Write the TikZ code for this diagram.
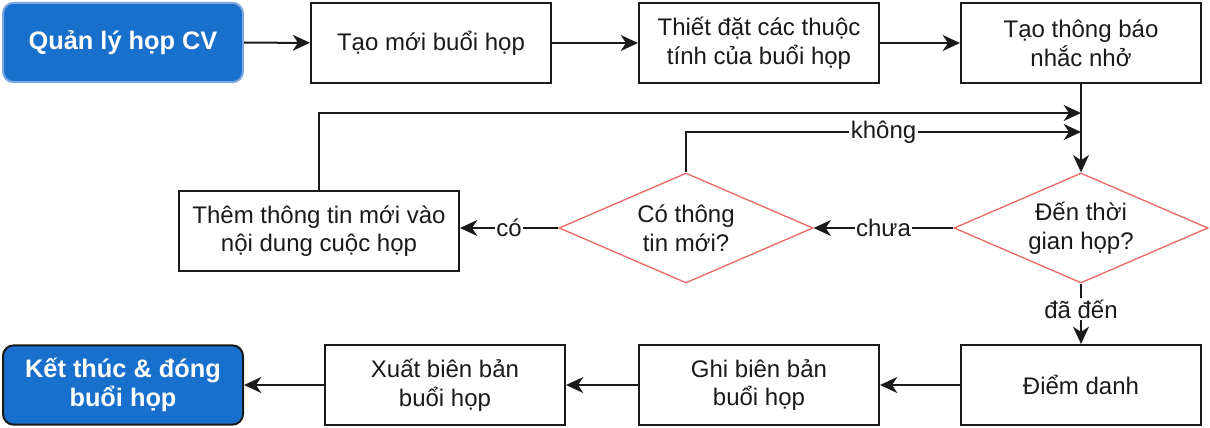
\documentclass[tikz,border=0pt]{standalone}
\usepackage{fontspec}
\setmainfont{Liberation Sans}
\usetikzlibrary{shapes.geometric,arrows.meta}
\definecolor{ink}{HTML}{1A1A1A}
\definecolor{blueA}{HTML}{1870CC}
\definecolor{blueedge}{HTML}{7EA6E0}
\definecolor{redd}{HTML}{EA6B66}
\begin{document}
\begin{tikzpicture}[x=0.75pt,y=-0.75pt,
  txt/.style={font=\fontsize{18}{21.5}\selectfont},
  stepbox/.style={txt,draw=ink,line width=1.5pt,fill=white,minimum width=180pt,minimum height=60pt,inner sep=0pt,align=center,text=ink},
  term/.style={font=\fontsize{19}{22}\selectfont\bfseries,draw=ink,line width=1.5pt,fill=blueA,rounded corners=8pt,minimum width=180pt,minimum height=59.5pt,inner sep=0pt,align=center,text=white},
  decide/.style={txt,diamond,aspect=2.3,draw=redd,line width=1pt,fill=white,minimum width=190.5pt,minimum height=82.5pt,inner sep=0pt,align=center,text=ink},
  conn/.style={draw=ink,line width=1.5pt,-{Stealth[length=13pt,width=12pt,inset=4pt]}},
  lbl/.style={txt,fill=white,inner sep=1pt,text=ink}]
\useasboundingbox (0,0) rectangle (1210,428);
% top row
\node[term,draw=blueedge] (start) at (123,42.5) {Quản lý họp CV};
\node[stepbox] (n1) at (431,43) {Tạo mới buổi họp};
\node[stepbox] (n2) at (759,43) {Thiết đặt các thuộc\\tính của buổi họp};
\node[stepbox] (n3) at (1081,43) {Tạo thông báo\\nhắc nhở};
% middle row
\node[decide] (d1) at (1081,228) {Đến thời\\gian họp?};
\node[decide] (d2) at (686,228) {Có thông\\tin mới?};
\node[stepbox,minimum width=210pt] (add) at (319,231) {Thêm thông tin mới vào\\nội dung cuộc họp};
% bottom row
\node[stepbox] (b1) at (1081,385) {Điểm danh};
\node[stepbox] (b2) at (759,385) {Ghi biên bản\\buổi họp};
\node[stepbox] (b3) at (445,385) {Xuất biên bản\\buổi họp};
\node[term] (end) at (123,385) {Kết thúc \& đóng\\buổi họp};
% merge points
\coordinate (k1) at (1081,113);
\coordinate (k2) at (1081,132);
% connectors
\draw[conn] (start) -- (n1);
\draw[conn] (n1) -- (n2);
\draw[conn] (n2) -- (n3);
\draw[conn] (n3.south) -- (d1.north);
\draw[conn] (d1.west) -- node[lbl]{chưa} (d2.east);
\draw[conn] (d2.west) -- node[lbl]{có} (d2.west -| add.east);
\draw[conn] (d2.north) |- node[lbl,pos=0.75]{không} (k2);
\draw[conn] (add.north) |- (k1);
\draw[conn] (d1.south) -- node[lbl,pos=0.42]{đã đến} (b1.north);
\draw[conn] (b1) -- (b2);
\draw[conn] (b2) -- (b3);
\draw[conn] (b3) -- (end);
\end{tikzpicture}
\end{document}
